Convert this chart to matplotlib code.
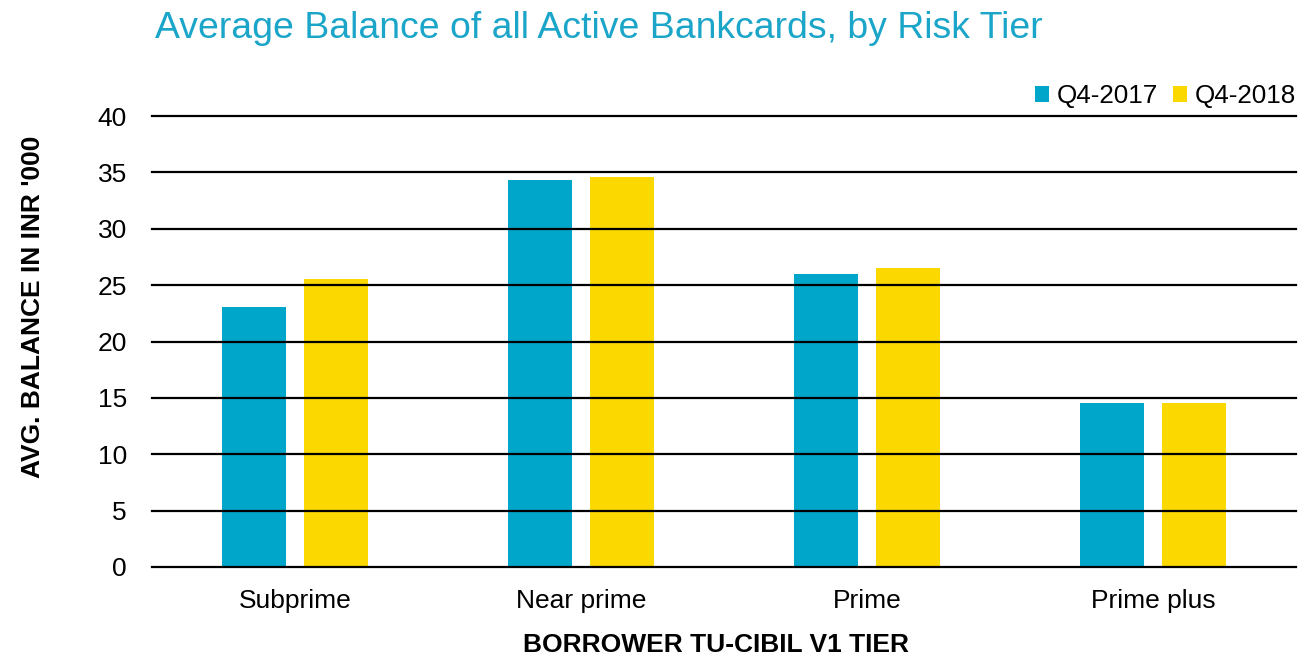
import matplotlib.pyplot as plt
import numpy as np

plt.rcParams['font.family'] = ['Liberation Sans', 'DejaVu Sans']

categories = ['Subprime', 'Near prime', 'Prime', 'Prime plus']
q4_2017 = [23.1, 34.3, 26.0, 14.55]
q4_2018 = [25.5, 34.6, 26.5, 14.55]

teal = '#00A6CA'
yellow = '#FBD800'

fig = plt.figure(figsize=(13.02, 6.6), dpi=100)
ax = fig.add_axes([152 / 1302, 93 / 660, (1296 - 152) / 1302, (567 - 116) / 660])

x = np.arange(len(categories))
w = 0.225
off = 0.143
ax.bar(x - off, q4_2017, w, color=teal, label='Q4-2017', zorder=1)
ax.bar(x + off, q4_2018, w, color=yellow, label='Q4-2018', zorder=1)

ax.set_ylim(0, 40)
ax.set_xlim(-0.5, 3.5)
ax.set_yticks(range(0, 41, 5))
ax.set_xticks(x)
ax.set_xticklabels(categories)
ax.tick_params(length=0, labelsize=19)
ax.tick_params(axis='x', pad=16)
ax.tick_params(axis='y', pad=18)
ax.set_axisbelow(False)
ax.yaxis.grid(True, color='black', linewidth=1.6, zorder=3)
for gl in ax.get_ygridlines():
    gl.set_clip_on(False)
for s in ax.spines.values():
    s.set_visible(False)

ax.set_ylabel("AVG. BALANCE IN INR '000", fontsize=19, fontweight='bold')
ax.set_xlabel('BORROWER TU-CIBIL V1 TIER', fontsize=19, fontweight='bold')
# label positions in axes coords (axes spans x 152..1296, y 116..567 px)
ax.yaxis.set_label_coords((33 - 152) / 1144, (567 - 307) / 451)
ax.xaxis.set_label_coords((716 - 152) / 1144, (567 - 645) / 451)
ax.xaxis.label.set_va('center')
ax.yaxis.label.set_va('center')

fig.text(155 / 1302, 1 - 28 / 660, 'Average Balance of all Active Bankcards, by Risk Tier',
         fontsize=26.9, color='#1BA6C9', va='center', ha='left')

fig.legend(loc='upper right', bbox_to_anchor=(1296 / 1302, 1 - 84 / 660), ncol=2, frameon=False,
           fontsize=18.7, handlelength=0.55, handleheight=0.55, handletextpad=0.3, columnspacing=0.55,
           borderaxespad=0, borderpad=0)

fig.savefig('out.png', dpi=100)
